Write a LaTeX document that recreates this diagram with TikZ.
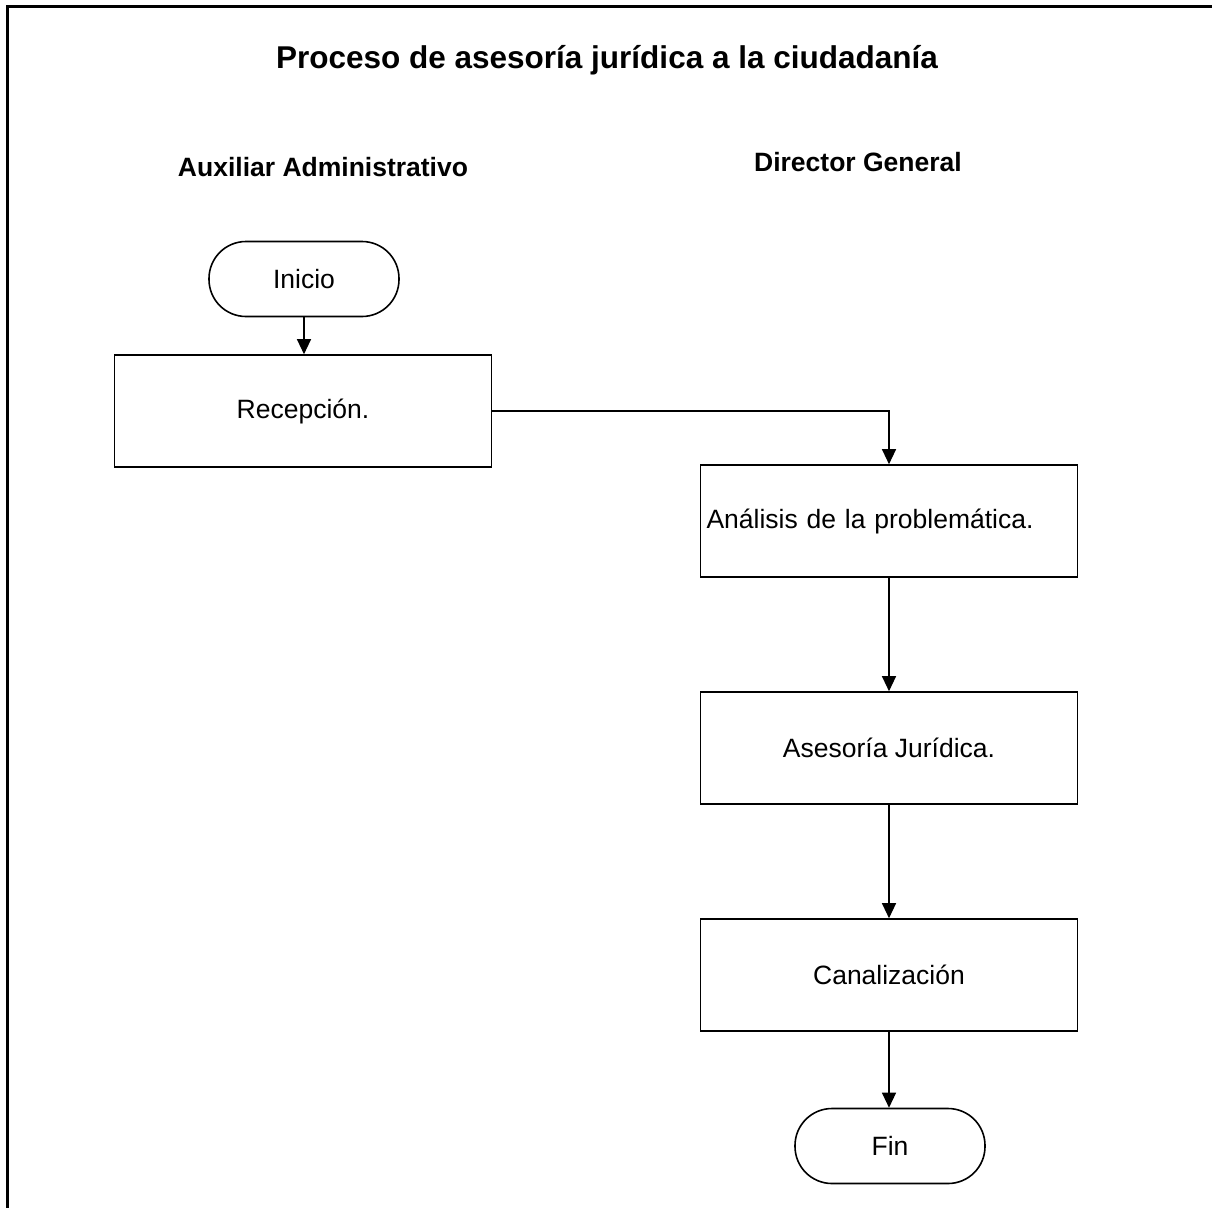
\documentclass[tikz,border=0pt]{standalone}
\usepackage{fontspec}
\setmainfont{Liberation Sans}
\usetikzlibrary{arrows.meta}
\begin{document}
\begin{tikzpicture}[x=1pt,y=-1pt,
  txt/.style={font=\fontsize{26.5}{30}\selectfont},
  hdr/.style={font=\fontsize{26.5}{30}\selectfont\bfseries},
  proc/.style={draw, line width=1.6pt, rectangle, minimum width=377pt, minimum height=112pt, inner sep=0pt, txt},
  term/.style={draw, line width=1.6pt, rectangle, rounded corners=37pt, minimum width=190pt, minimum height=75pt, inner sep=0pt, txt},
  flow/.style={draw, line width=1.2pt, -{Triangle[length=15pt,width=14pt]}}
]
\useasboundingbox (0,0) rectangle (1212,1207);
\draw[line width=3pt] (7,1208) -- (7,7) -- (1213,7);

\node[font=\fontsize{31.5}{36}\selectfont\bfseries] (title) at (607,60) {Proceso de asesoría jurídica a la ciudadanía};
\node[hdr] (h1) at (323,167) {Auxiliar Administrativo};
\node[hdr] (h2) at (858,162) {Director General};

\node[term] (ini) at (304,279) {Inicio};
\node[proc] (rec) at (303,411) {Recepción.};
\node[proc, text width=365pt, align=left, inner xsep=6pt] (ana) at (889,521) {Análisis de la problemática.};
\node[proc] (ase) at (889,748) {Asesoría Jurídica.};
\node[proc] (can) at (889,975) {Canalización};
\node[term] (fin) at (890,1146) {Fin};

\draw[flow] (ini.south) -- (rec.north -| ini.south);
\draw[flow] (rec.east) -| (ana.north);
\draw[flow] (ana.south) -- (ase.north);
\draw[flow] (ase.south) -- (can.north);
\draw[flow] (can.south) -- (fin.north -| can.south);
\end{tikzpicture}
\end{document}
